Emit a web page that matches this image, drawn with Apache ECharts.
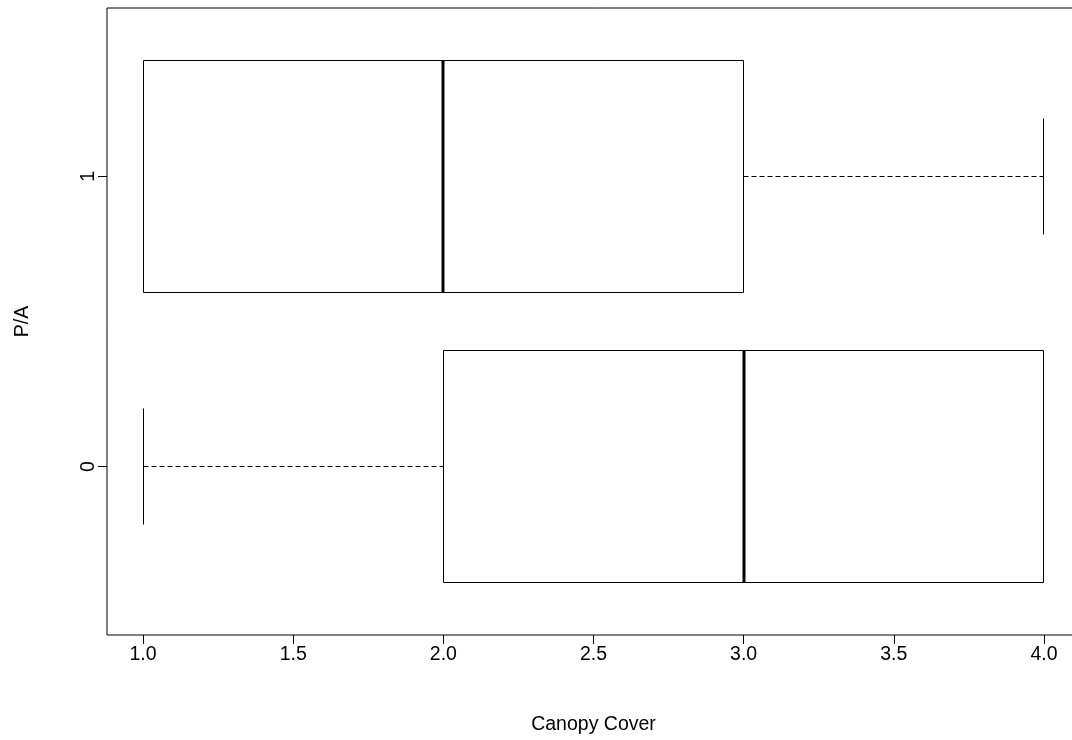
<!DOCTYPE html>
<html>
<head>
<meta charset="utf-8">
<script src="https://cdn.jsdelivr.net/npm/echarts@6/dist/echarts.min.js"></script>
<style>
html,body{margin:0;padding:0;background:#fff;overflow:hidden;width:1072px;height:740px;}
#chart{width:1080px;height:740px;}
</style>
</head>
<body>
<div id="chart"></div>
<script>
// Categories (P/A groups), bottom to top
const categories = ['0', '1'];
// Five-number summaries per category: [min, Q1, median, Q3, max]
const minVals    = [1, 1];
const q1Vals     = [2, 1];
const medianVals = [3, 2];
const q3Vals     = [4, 3];
const maxVals    = [4, 4];
// Tick labels for x axis
const xTicks = [1.0, 1.5, 2.0, 2.5, 3.0, 3.5, 4.0];
const yTicks = [1, 2];

const data = categories.map((c, i) => [i + 1, minVals[i], q1Vals[i], medianVals[i], q3Vals[i], maxVals[i]]);

const FONT = 'Liberation Sans, Arial, sans-serif';
const chart = echarts.init(document.getElementById('chart'));

function crisp(v) { return Math.round(v - 0.5) + 0.5; }

chart.setOption({
  backgroundColor: '#fff',
  animation: false,
  grid: {
    left: 107, top: 8, right: 0, bottom: 103,
    show: true, borderColor: '#000', borderWidth: 1, backgroundColor: 'transparent'
  },
  xAxis: {
    type: 'value',
    min: 0.88, max: 4.12,
    name: 'Canopy Cover',
    nameLocation: 'middle',
    nameGap: 80,
    nameTextStyle: { fontFamily: FONT, fontSize: 19.5, color: '#000' },
    axisLine: { show: false },
    splitLine: { show: false },
    axisTick: { show: true, customValues: xTicks, length: 9, lineStyle: { color: '#000', width: 1 } },
    axisLabel: {
      customValues: xTicks, margin: 10,
      fontFamily: FONT, fontSize: 19.5, color: '#000',
      formatter: v => Number(v).toFixed(1)
    }
  },
  yAxis: {
    type: 'value',
    min: 0.42, max: 2.58,
    name: 'P/A',
    nameLocation: 'middle',
    nameGap: 74,
    nameRotate: 90,
    nameTextStyle: { fontFamily: FONT, fontSize: 19.5, color: '#000' },
    axisLine: { show: false },
    splitLine: { show: false },
    axisTick: { show: true, customValues: yTicks, length: 9, lineStyle: { color: '#000', width: 1 } },
    axisLabel: {
      customValues: yTicks, margin: 8, rotate: 90,
      fontFamily: FONT, fontSize: 19.5, color: '#000',
      formatter: v => categories[Math.round(v) - 1]
    }
  },
  series: [{
    type: 'custom',
    data: data,
    encode: { x: [1, 2, 3, 4, 5], y: 0 },
    renderItem: function (params, api) {
      const pos = api.value(0);
      const mn = api.value(1), q1 = api.value(2), md = api.value(3), q3 = api.value(4), mx = api.value(5);
      const pMin = api.coord([mn, pos]);
      const pQ1 = api.coord([q1, pos]);
      const pMd = api.coord([md, pos]);
      const pQ3 = api.coord([q3, pos]);
      const pMax = api.coord([mx, pos]);
      const halfBox = api.size([0, 0.8])[1] / 2;
      const halfCap = api.size([0, 0.4])[1] / 2;
      const yc = crisp(pMd[1]);
      const top = crisp(pMd[1] - halfBox), bot = crisp(pMd[1] + halfBox);
      const xQ1 = crisp(pQ1[0]), xQ3 = crisp(pQ3[0]), xMin = crisp(pMin[0]), xMax = crisp(pMax[0]);
      const solid = { stroke: '#000', lineWidth: 1, fill: null };
      const dashed = { stroke: '#000', lineWidth: 1, lineDash: [5, 3], fill: null };
      const children = [];
      // whiskers
      if (xMin !== xQ1) children.push({ type: 'line', shape: { x1: xMin, y1: yc, x2: xQ1, y2: yc }, style: dashed });
      if (xMax !== xQ3) children.push({ type: 'line', shape: { x1: xQ3, y1: yc, x2: xMax, y2: yc }, style: dashed });
      // caps
      children.push({ type: 'line', shape: { x1: xMin, y1: crisp(pMd[1] - halfCap), x2: xMin, y2: crisp(pMd[1] + halfCap) }, style: solid });
      children.push({ type: 'line', shape: { x1: xMax, y1: crisp(pMd[1] - halfCap), x2: xMax, y2: crisp(pMd[1] + halfCap) }, style: solid });
      // box
      children.push({ type: 'rect', shape: { x: xQ1, y: top, width: xQ3 - xQ1, height: bot - top }, style: { stroke: '#000', lineWidth: 1, fill: '#fff' } });
      // median
      children.push({ type: 'line', shape: { x1: Math.round(pMd[0]), y1: top, x2: Math.round(pMd[0]), y2: bot }, style: { stroke: '#000', lineWidth: 3 } });
      return { type: 'group', children: children };
    }
  }]
});
</script>
</body>
</html>
